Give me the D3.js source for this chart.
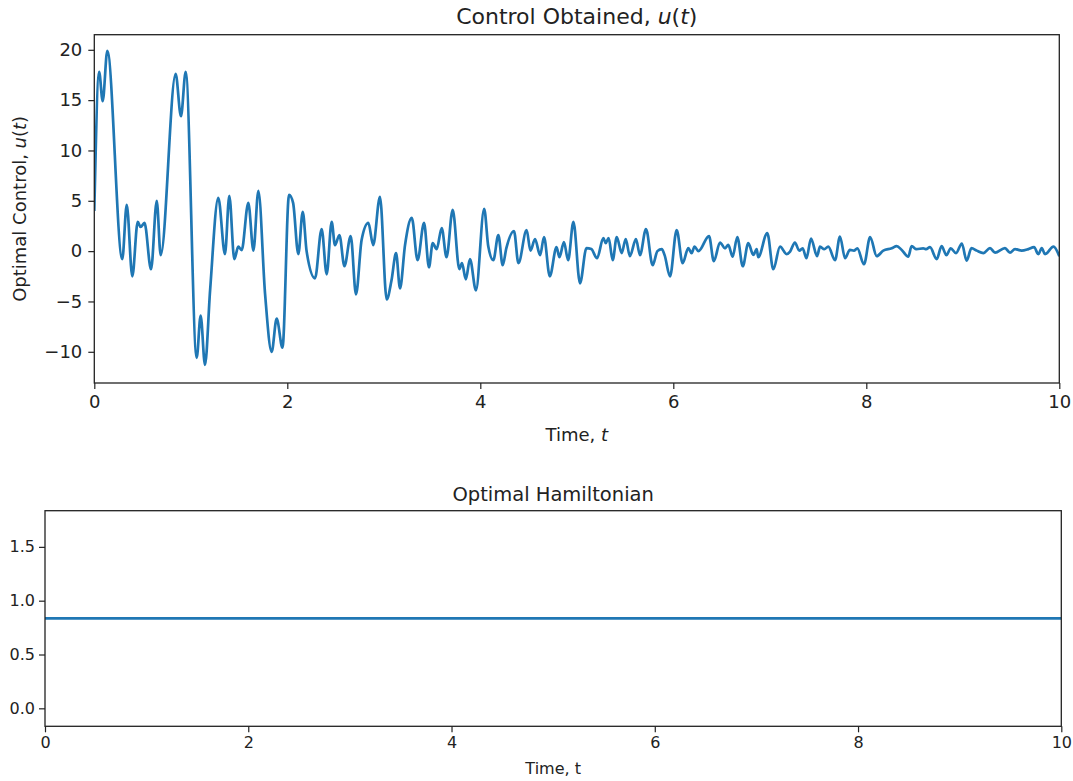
<!DOCTYPE html>
<html>
<head>
<meta charset="utf-8">
<script src="https://cdn.jsdelivr.net/npm/d3@7"></script>
<style>
body { margin: 0; background: #fff; }
svg { display: block; font-family: "DejaVu Sans", sans-serif; }
</style>
</head>
<body>
<script>
// control u(t) (turning points)
var controlT = [0.00, 0.05, 0.087, 0.135, 0.29, 0.336, 0.394, 0.45, 0.48, 0.52, 0.588, 0.647, 0.688, 0.843, 0.898, 0.947,
    1.061, 1.102, 1.147, 1.20, 1.285, 1.354, 1.399, 1.451, 1.492, 1.527, 1.596, 1.649, 1.700, 1.77, 1.838, 1.89, 1.95,
    2.018, 2.06, 2.114, 2.16, 2.20, 2.287, 2.356, 2.408, 2.46, 2.494, 2.54, 2.592, 2.657, 2.712, 2.77, 2.84, 2.89, 2.96,
    3.03, 3.08, 3.127, 3.168, 3.22, 3.29, 3.35, 3.417, 3.468, 3.507, 3.548, 3.60, 3.65, 3.714, 3.783, 3.81, 3.85, 3.893, 3.955,
    4.04, 4.083, 4.135, 4.187, 4.232, 4.27, 4.349, 4.395, 4.48, 4.52, 4.567, 4.62, 4.66, 4.72, 4.79, 4.82, 4.867, 4.91, 4.965,
    5.033, 5.10, 5.15, 5.21, 5.275, 5.30, 5.33, 5.372, 5.414, 5.465, 5.507, 5.55, 5.613, 5.655, 5.717, 5.786, 5.835, 5.88, 5.91, 5.966,
    6.035, 6.097, 6.155, 6.19, 6.22, 6.26, 6.37, 6.42, 6.484, 6.536, 6.57, 6.615, 6.663, 6.72, 6.777, 6.83, 6.864, 6.88, 6.974,
    7.036, 7.106, 7.175, 7.21, 7.26, 7.306, 7.34, 7.38, 7.427, 7.49, 7.52, 7.565, 7.606, 7.676, 7.727, 7.78, 7.83, 7.872, 7.907, 7.976,
    8.04, 8.108, 8.176, 8.263, 8.315, 8.367, 8.435, 8.47, 8.52, 8.59, 8.62, 8.66, 8.73, 8.78, 8.83, 8.875, 8.93, 8.99,
    9.04, 9.09, 9.144, 9.213, 9.282, 9.334, 9.437, 9.489, 9.541, 9.61, 9.679, 9.738, 9.783, 9.818, 9.852, 9.94, 10.0];
var controlU = [4.0, 17.8, 14.9, 19.9, -0.8, 4.6, -2.5, 2.9, 2.4, 2.8, -1.8, 5.0, -0.4, 17.6, 13.4, 17.8,
    -10.6, -6.4, -11.3, -3.9, 5.3, -0.3, 5.5, -0.8, 0.45, 0.1, 4.8, 0.05, 6.0, -4.3, -10.0, -6.7, -9.6,
    5.6, 4.8, -0.3, 3.9, 0.0, -2.7, 2.2, -2.3, 2.9, 0.6, 1.6, -1.5, 1.5, -4.3, 1.1, 2.8, 0.6, 5.4,
    -4.8, -2.9, -0.2, -3.7, 0.6, 3.3, -0.9, 2.8, -1.6, 0.8, 0.2, 2.3, -0.6, 4.1, -1.8, -1.2, -2.8, -0.8, -3.9,
    4.2, 0.45, -0.9, 1.6, -1.4, 0.3, 2.0, -1.2, 2.1, 0.05, 1.2, -0.4, 1.4, -2.5, 0.4, -0.6, 0.9, -0.9, 2.9,
    -3.2, 0.3, 0.2, -0.7, 1.3, 0.8, 1.3, -0.9, 1.4, -0.2, 1.2, -0.5, 1.2, -0.4, 2.2, -1.4, 0.0, 0.2, -0.4, -2.5,
    2.1, -1.2, 0.3, -0.2, 0.45, 0.0, 1.5, -1.0, 0.85, 0.28, 0.62, -0.55, 1.4, -1.5, 0.8, -0.38, 0.2, -0.6, 1.8,
    -1.8, 0.45, -0.3, -0.05, 0.85, 0.05, 0.28, -0.7, 1.25, -0.5, 0.45, 0.19, 0.45, -0.9, 1.45, -0.7, 0.12, 0.05, 0.28, -1.3,
    1.4, -0.5, 0.05, 0.28, 0.5, 0.12, -0.55, 0.5, 0.19, 0.28, 0.2, 0.39, -0.8, 0.5, -0.4, 0.28, -0.2, 0.75,
    -0.95, 0.3, 0.05, -0.2, 0.3, -0.15, 0.3, -0.15, 0.2, 0.05, 0.2, 0.4, -0.3, 0.3, -0.3, 0.45, -0.5];

// optimal Hamiltonian (flat)
var hamT = [0, 10];
var hamH = [0.835, 0.835];

var xTicks = [0, 2, 4, 6, 8, 10];
var uTicks = [-10, -5, 0, 5, 10, 15, 20];
var hTicks = [0, 0.5, 1.0, 1.5];

var width = 1073, height = 781;
var lineColor = "#1f77b4", inkColor = "#222";

var svg = d3.select("body").append("svg")
    .attr("width", width)
    .attr("height", height);

// write text with some italic (math) pieces
function richText(sel, parts) {
    parts.forEach(function(p) {
        sel.append("tspan")
            .style("font-style", p[1] ? "italic" : "normal")
            .text(p[0]);
    });
}

function drawPanel(cfg) {
    var xScale = d3.scaleLinear().domain([0, 10]).range([cfg.left, cfg.right]);
    var yScale = d3.scaleLinear().domain(cfg.yDomain).range([cfg.bottom, cfg.top]);

    var g = svg.append("g");

    var clipId = "clip" + cfg.id;
    g.append("clipPath").attr("id", clipId)
        .append("rect")
        .attr("x", cfg.left).attr("y", cfg.top)
        .attr("width", cfg.right - cfg.left)
        .attr("height", cfg.bottom - cfg.top);

    var line = d3.line()
        .x(function(d) { return xScale(d[0]); })
        .y(function(d) { return yScale(d[1]); })
        .curve(d3.curveMonotoneX);

    g.append("path")
        .datum(d3.zip(cfg.xs, cfg.ys))
        .attr("clip-path", "url(#" + clipId + ")")
        .attr("fill", "none")
        .attr("stroke", lineColor)
        .attr("stroke-width", 2.7)
        .attr("stroke-linejoin", "round")
        .attr("d", line);

    var axisX = d3.axisBottom(xScale).tickValues(xTicks).tickFormat(d3.format("d"))
        .tickSize(6).tickSizeOuter(0).tickPadding(cfg.tickPad);
    var gx = g.append("g")
        .attr("transform", "translate(0," + cfg.bottom + ")")
        .call(axisX);

    var axisY = d3.axisLeft(yScale).tickValues(cfg.yTicks).tickFormat(cfg.yFormat)
        .tickSize(6).tickSizeOuter(0).tickPadding(cfg.tickPad);
    var gy = g.append("g")
        .attr("transform", "translate(" + cfg.left + ",0)")
        .call(axisY);

    [gx, gy].forEach(function(a) {
        a.select(".domain").remove();
        a.selectAll("line").attr("stroke", inkColor).attr("stroke-width", 1.2);
        a.selectAll("text")
            .attr("fill", inkColor)
            .style("font-family", "'DejaVu Sans', sans-serif")
            .style("font-size", cfg.tickFont + "px");
    });

    // frame
    g.append("rect")
        .attr("x", cfg.left).attr("y", cfg.top)
        .attr("width", cfg.right - cfg.left)
        .attr("height", cfg.bottom - cfg.top)
        .attr("fill", "none")
        .attr("stroke", inkColor)
        .attr("stroke-width", 1.3);

    var mid = (cfg.left + cfg.right) / 2;

    var title = g.append("text")
        .attr("x", mid).attr("y", cfg.titleY)
        .attr("text-anchor", "middle")
        .attr("fill", inkColor)
        .style("font-size", cfg.titleFont + "px");
    richText(title, cfg.title);

    var xl = g.append("text")
        .attr("x", mid).attr("y", cfg.xlabelY)
        .attr("text-anchor", "middle")
        .attr("fill", inkColor)
        .style("font-size", cfg.labelFont + "px");
    richText(xl, cfg.xlabel);

    if (cfg.ylabel) {
        var yl = g.append("text")
            .attr("transform", "translate(" + cfg.ylabelX + "," + ((cfg.top + cfg.bottom) / 2) + ") rotate(-90)")
            .attr("text-anchor", "middle")
            .attr("fill", inkColor)
            .style("font-size", cfg.labelFont + "px");
        richText(yl, cfg.ylabel);
    }
}

drawPanel({
    id: "u",
    left: 94.3, right: 1059.3, top: 34.7, bottom: 383,
    yDomain: [-13.1, 21.5],
    yTicks: uTicks, yFormat: d3.format("d"),
    xs: controlT, ys: controlU,
    tickFont: 18, tickPad: 6,
    title: [["Control Obtained, ", false], ["u", true], ["(", false], ["t", true], [")", false]],
    titleFont: 22, titleY: 24,
    xlabel: [["Time, ", false], ["t", true]],
    xlabelY: 441,
    labelFont: 18,
    ylabel: [["Optimal Control, ", false], ["u", true], ["(", false], ["t", true], [")", false]],
    ylabelX: 25.5
});

drawPanel({
    id: "h",
    left: 45, right: 1061.3, top: 510.7, bottom: 726.3,
    yDomain: [-0.167, 1.836],
    yTicks: hTicks, yFormat: d3.format(".1f"),
    xs: hamT, ys: hamH,
    tickFont: 16, tickPad: 4,
    title: [["Optimal Hamiltonian", false]],
    titleFont: 19.5, titleY: 500.5,
    xlabel: [["Time, t", false]],
    xlabelY: 774,
    labelFont: 16
});
</script>
</body>
</html>
